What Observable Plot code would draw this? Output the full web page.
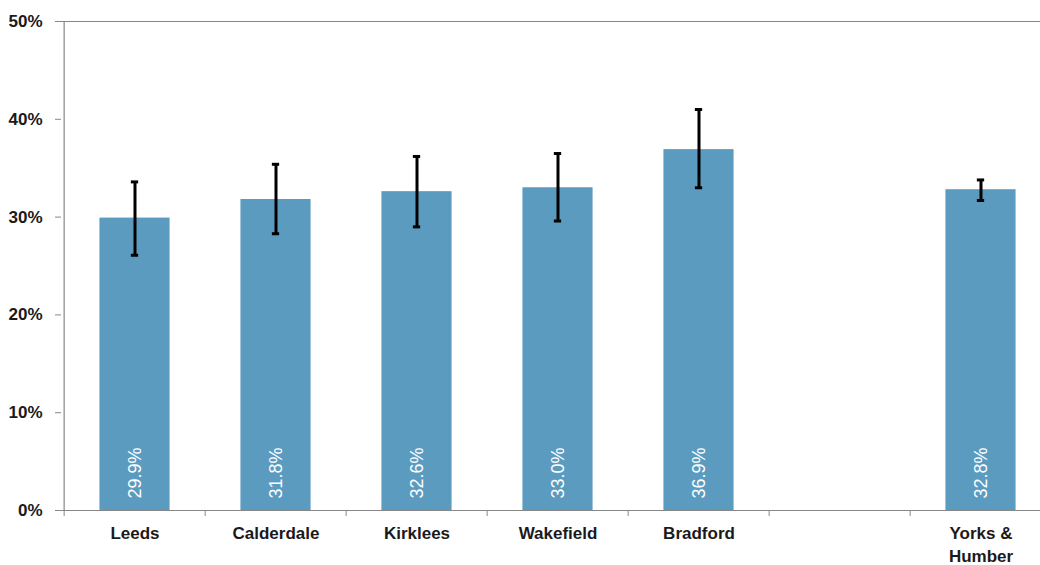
<!DOCTYPE html>
<html>
<head>
<meta charset="utf-8">
<script src="https://cdn.jsdelivr.net/npm/d3@7"></script>
<script src="https://cdn.jsdelivr.net/npm/@observablehq/plot@0.6"></script>
<style>
  html, body { margin: 0; padding: 0; background: #fff; overflow: hidden; }
  svg { font-family: "Liberation Sans", Arial, sans-serif; }
</style>
</head>
<body>
<div id="chart"></div>
<script>
const categories = ["Leeds", "Calderdale", "Kirklees", "Wakefield", "Bradford", "", "Yorks & Humber"];
const areas = ["Leeds", "Calderdale", "Kirklees", "Wakefield", "Bradford", "Yorks & Humber"];
const values = [29.9, 31.8, 32.6, 33.0, 36.9, 32.8];
const lower = [26.1, 28.3, 29.0, 29.6, 33.0, 31.7];
const upper = [33.6, 35.4, 36.2, 36.5, 41.0, 33.8];
const yTicks = [0, 10, 20, 30, 40, 50];

const data = areas.map((a, i) => ({cat: a, v: values[i], lo: lower[i], hi: upper[i]}));

const width = 1040, height = 565;
const marginLeft = 61, marginRight = -13;
const band = (width - marginLeft - marginRight) / categories.length;

const axisGray = "#878787";
const barColor = "#5b9bc0";

const chart = Plot.plot({
  width, height,
  marginTop: 21, marginBottom: 55, marginLeft, marginRight,
  style: {fontFamily: "'Liberation Sans', Arial, sans-serif", overflow: "visible"},
  x: {domain: categories, padding: 0, axis: null, label: null},
  y: {domain: [0, 50], axis: null, label: null},
  marks: [
    Plot.barY(data, {x: "cat", y: "v", fill: barColor, insetLeft: band / 4, insetRight: band / 4}),
    Plot.ruleY([50], {stroke: axisGray, strokeWidth: 1.2}),
    Plot.ruleX([0], {x: () => categories[0], dx: -band / 2, y1: 0, y2: 50, stroke: axisGray, strokeWidth: 1.2}),
    Plot.ruleY([0], {stroke: axisGray, strokeWidth: 1.2}),
    Plot.axisY({
      ticks: yTicks, tickSize: 6, tickPadding: 13, stroke: axisGray, label: null,
      tickFormat: d => d + "%", fontSize: 17, fontWeight: "bold", fill: "#1a1a1a"
    }),
    Plot.axisX({tickSize: 6, text: null, dx: -band / 2, stroke: axisGray, label: null}),
    Plot.axisX({
      tickSize: 0, tickPadding: 13, fontSize: 17, fontWeight: "bold", fill: "#1a1a1a",
      lineHeight: 1.32, label: null,
      tickFormat: d => d === "Yorks & Humber" ? "Yorks &\nHumber" : d
    }),
    Plot.ruleX(data, {x: "cat", y1: "lo", y2: "hi", stroke: "#000", strokeWidth: 3}),
    Plot.tickY(data, {x: "cat", y: "lo", stroke: "#000", strokeWidth: 3, insetLeft: band / 2 - 4, insetRight: band / 2 - 4}),
    Plot.tickY(data, {x: "cat", y: "hi", stroke: "#000", strokeWidth: 3, insetLeft: band / 2 - 4, insetRight: band / 2 - 4}),
    Plot.text(data, {
      x: "cat", y: 0, text: d => d.v.toFixed(1) + "%", rotate: -90,
      textAnchor: "start", dy: -12, fill: "#fff", fontSize: 18
    })
  ]
});
document.getElementById("chart").appendChild(chart);
</script>
</body>
</html>
